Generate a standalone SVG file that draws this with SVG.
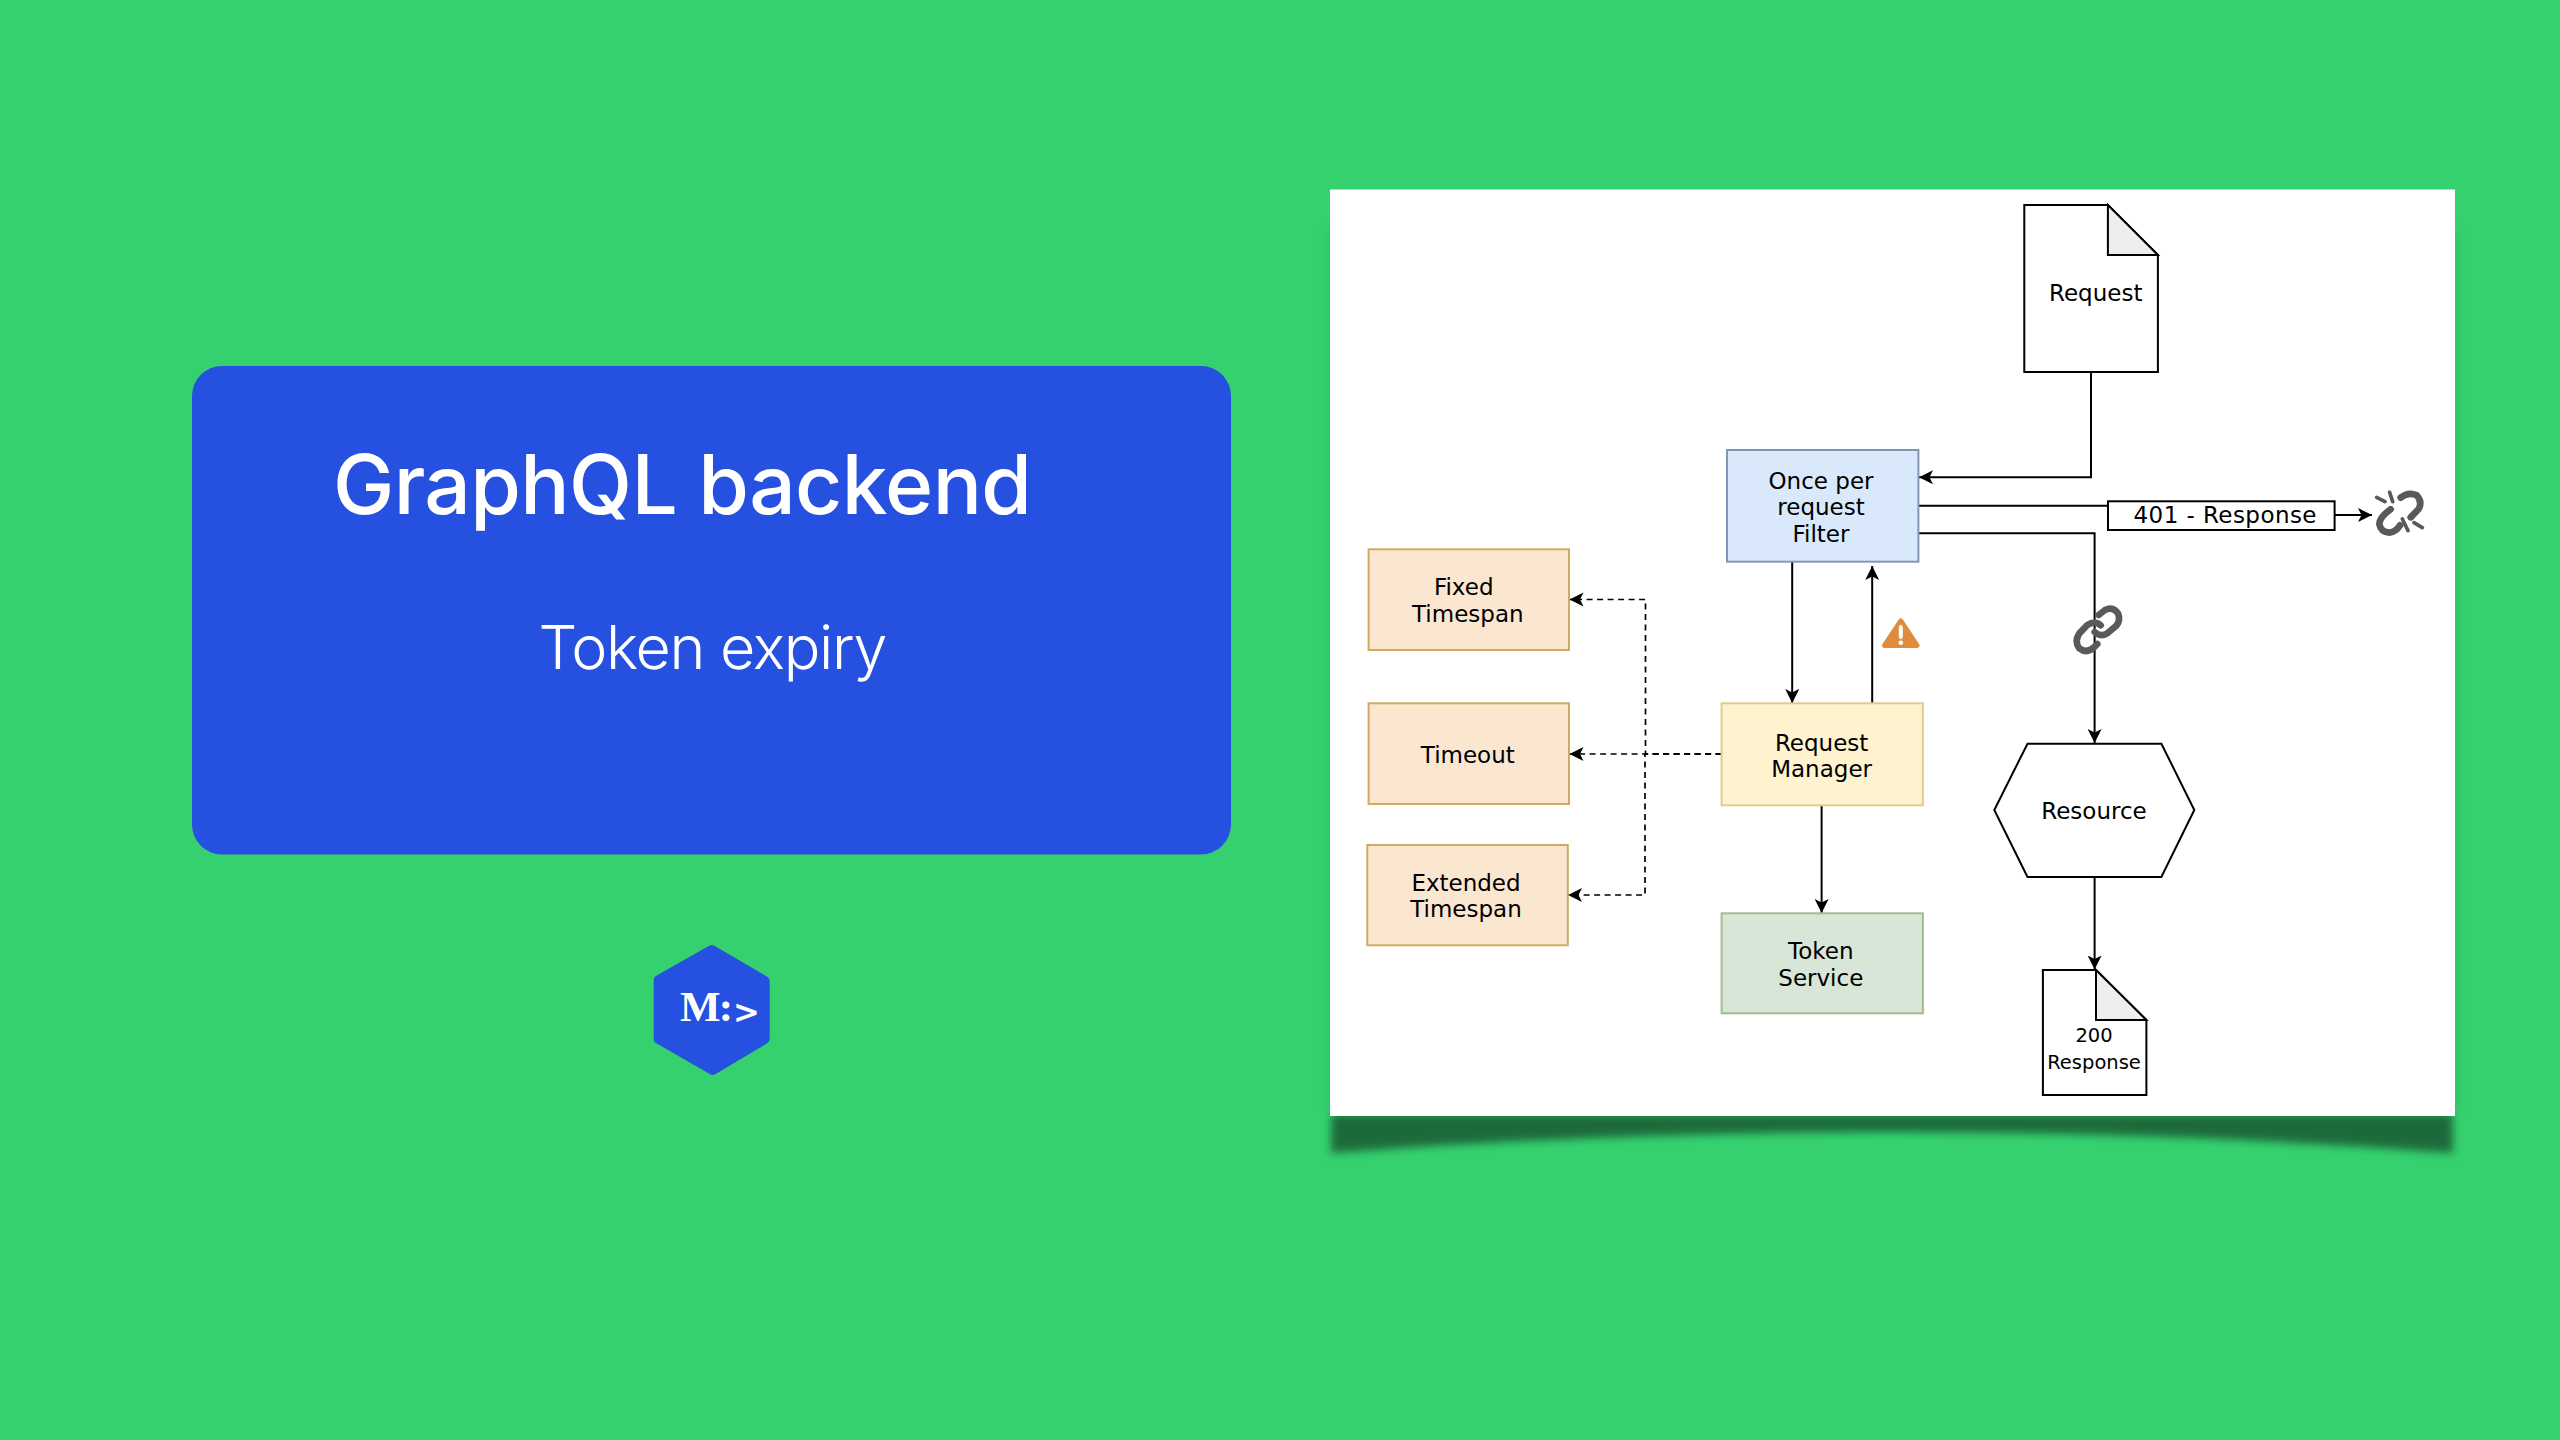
<svg xmlns="http://www.w3.org/2000/svg" width="2560" height="1440" viewBox="0 0 2560 1440">
<style>
.n{font-family:"DejaVu Sans",Verdana,sans-serif;font-size:23px;fill:#000;text-anchor:middle}
.s{font-size:19.5px}
.box{stroke-width:2}
.doc{fill:#fff;stroke:#000;stroke-width:2;stroke-linejoin:miter}
.fold{fill:#eee;stroke:#000;stroke-width:2}
.c{fill:none;stroke:#000;stroke-width:2}
.d{fill:none;stroke:#000;stroke-width:1.7;stroke-dasharray:6 4.5}
.ar{marker-end:url(#arrow)}
.ic{fill:none;stroke:#595959;stroke-width:20;stroke-linecap:round;stroke-linejoin:round}
.sp{fill:none;stroke:#595959;stroke-width:11;stroke-linecap:round}
</style>
<defs>
<marker id="arrow" markerUnits="userSpaceOnUse" markerWidth="15" markerHeight="15" refX="14" refY="7" orient="auto">
<path d="M0,0 L14,7 L0,14 L3.5,7 z" fill="#000"/>
</marker>
<filter id="blur" x="-5%" y="-50%" width="110%" height="200%"><feGaussianBlur stdDeviation="4"/></filter>
</defs>
<rect id="background" width="2560" height="1440" fill="#36d16f"/>

<g id="title-card">
<rect x="192" y="366" width="1039" height="488.5" rx="30" ry="30" fill="#2650e0"/>
<text x="682.5" y="513.5" font-family="Inter,'Open Sans',sans-serif" font-size="82" font-weight="500" fill="#fff" text-anchor="middle" textLength="699" lengthAdjust="spacing">GraphQL backend</text>
<text x="713" y="668.5" font-family="Inter,'Open Sans',sans-serif" font-size="61" font-weight="300" fill="#fff" text-anchor="middle" textLength="349" lengthAdjust="spacing">Token expiry</text>
</g>

<g id="logo">
<polygon points="711.7,950 764.7,981 764.7,1039 712.7,1070 658.7,1039 658.7,980" fill="#2650e0" stroke="#2650e0" stroke-width="10" stroke-linejoin="round"/>
<text y="1020.7" fill="#fff" font-size="43" font-weight="700" font-family="'Liberation Serif',serif"><tspan x="680">M</tspan><tspan x="718.7">:</tspan><tspan x="733" y="1023" font-family="'DejaVu Sans',sans-serif" font-size="32">&gt;</tspan></text>
</g>

<g id="panel">
<rect x="1326" y="230" width="1133" height="880" fill="#1c6b3a" opacity=".14" filter="url(#blur)"/>
<path d="M1331,1114 L2453,1114 L2453,1153 Q1892,1111 1331,1153 z" fill="#1c6b3a" filter="url(#blur)"/>
<rect x="1330" y="189.5" width="1125" height="926.5" fill="#fff"/>
</g>

<g id="connectors">
<path class="c ar" d="M2091,372 V477.3 H1919"/>
<path class="c" d="M1918.5,505.7 H2108"/>
<path class="c ar" d="M2334.6,515 H2372"/>
<path class="c ar" d="M1918.5,533.3 H2094.6 V743"/>
<path class="c ar" d="M2094.6,877 V969.5"/>
<path class="c ar" d="M1792.2,561.7 V703"/>
<path class="c ar" d="M1872.2,703 V566"/>
<path class="c ar" d="M1821.6,805.3 V913"/>
<path class="d ar" d="M1721.6,754 H1645.5 V599.5 H1569.5"/>
<path class="d ar" d="M1721.6,754 H1569.5"/>
<path class="d ar" d="M1721.6,754 H1645 V895 H1568"/>
</g>

<g id="request">
<path class="doc" d="M2024.3,205 H2107.9 L2157.9,255 V372 H2024.3 z"/>
<path class="fold" d="M2107.9,205 L2157.9,255 H2107.9 z"/>
<text class="n" x="2095.7" y="300.7">Request</text>
</g>
<g id="once-per-request-filter">
<rect class="box" x="1727" y="450" width="191.4" height="111.7" fill="#dae8fc" stroke="#7f98b8"/>
<text class="n" x="1821" y="488.5">Once per</text>
<text class="n" x="1821" y="515">request</text>
<text class="n" x="1821" y="541.7">Filter</text>
</g>
<g id="response-401">
<rect x="2108" y="501.3" width="226.6" height="28.7" fill="#fff" stroke="#000" stroke-width="2"/>
<text class="n" x="2225" y="523.3" textLength="183" lengthAdjust="spacing">401 - Response</text>
</g>
<g id="broken-link" transform="translate(2340,460) scale(.3333)">
<path class="ic" d="M152,148 Q118,172 118,192 Q122,216 148,218 Q168,216 180,196"/>
<path class="ic" d="M182,113 Q205,94 230,106 Q248,125 236,147 L212,172"/>
<path class="sp" d="M110,112 L135,125 M149,97 L158,125 M187,177 L204,212 M222,188 L247,203"/>
</g>
<g id="link" transform="translate(2050,590) scale(.3333)">
<path class="ic" d="M152,106 Q135,90 112,105 L88,130 Q72,155 88,175 Q110,192 132,172 L142,162"/>
<path class="ic" d="M146,75 L165,60 Q190,48 205,72 Q212,92 198,108 L172,130 Q150,142 134,126"/>
</g>
<g id="warning">
<polygon points="1900.8,621 1917,645.5 1884.6,645.5" fill="#e08b3e" stroke="#e08b3e" stroke-width="5" stroke-linejoin="round"/>
<path d="M1900.8,627 V637" stroke="#fff" stroke-width="4" stroke-linecap="round"/>
<circle cx="1900.8" cy="642.7" r="2.3" fill="#fff"/>
</g>
<g id="fixed-timespan">
<rect class="box" x="1368.6" y="549.3" width="200.4" height="100.7" fill="#fbe6d0" stroke="#cfab62"/>
<text class="n" x="1463.7" y="595">Fixed</text>
<text class="n" x="1467.8" y="621.7">Timespan</text>
</g>
<g id="timeout">
<rect class="box" x="1368.6" y="703.3" width="200.4" height="100.7" fill="#fbe6d0" stroke="#cfab62"/>
<text class="n" x="1467.8" y="762.7">Timeout</text>
</g>
<g id="extended-timespan">
<rect class="box" x="1367.3" y="845" width="200.5" height="100.3" fill="#fbe6d0" stroke="#cfab62"/>
<text class="n" x="1466" y="890.7">Extended</text>
<text class="n" x="1466" y="917.3">Timespan</text>
</g>
<g id="request-manager">
<rect class="box" x="1721.6" y="703.3" width="201.3" height="102" fill="#fff2cf" stroke="#e0cd8c"/>
<text class="n" x="1821.6" y="750.7">Request</text>
<text class="n" x="1821.6" y="777.3">Manager</text>
</g>
<g id="token-service">
<rect class="box" x="1721.6" y="913.3" width="201.3" height="100" fill="#d7e6d6" stroke="#a3bd92"/>
<text class="n" x="1820.8" y="959">Token</text>
<text class="n" x="1820.8" y="985.7">Service</text>
</g>
<g id="resource">
<polygon class="doc" points="1994.3,810 2027.5,743.7 2161.4,743.7 2194.3,810 2161.4,877 2027.5,877"/>
<text class="n" x="2094" y="819.3">Resource</text>
</g>
<g id="response-200">
<path class="doc" d="M2042.9,970 H2096 L2146.4,1020 V1095 H2042.9 z"/>
<path class="fold" d="M2096,970 L2146.4,1020 H2096 z"/>
<text class="n s" x="2094" y="1042.3">200</text>
<text class="n s" x="2094" y="1069">Response</text>
</g>
</svg>
